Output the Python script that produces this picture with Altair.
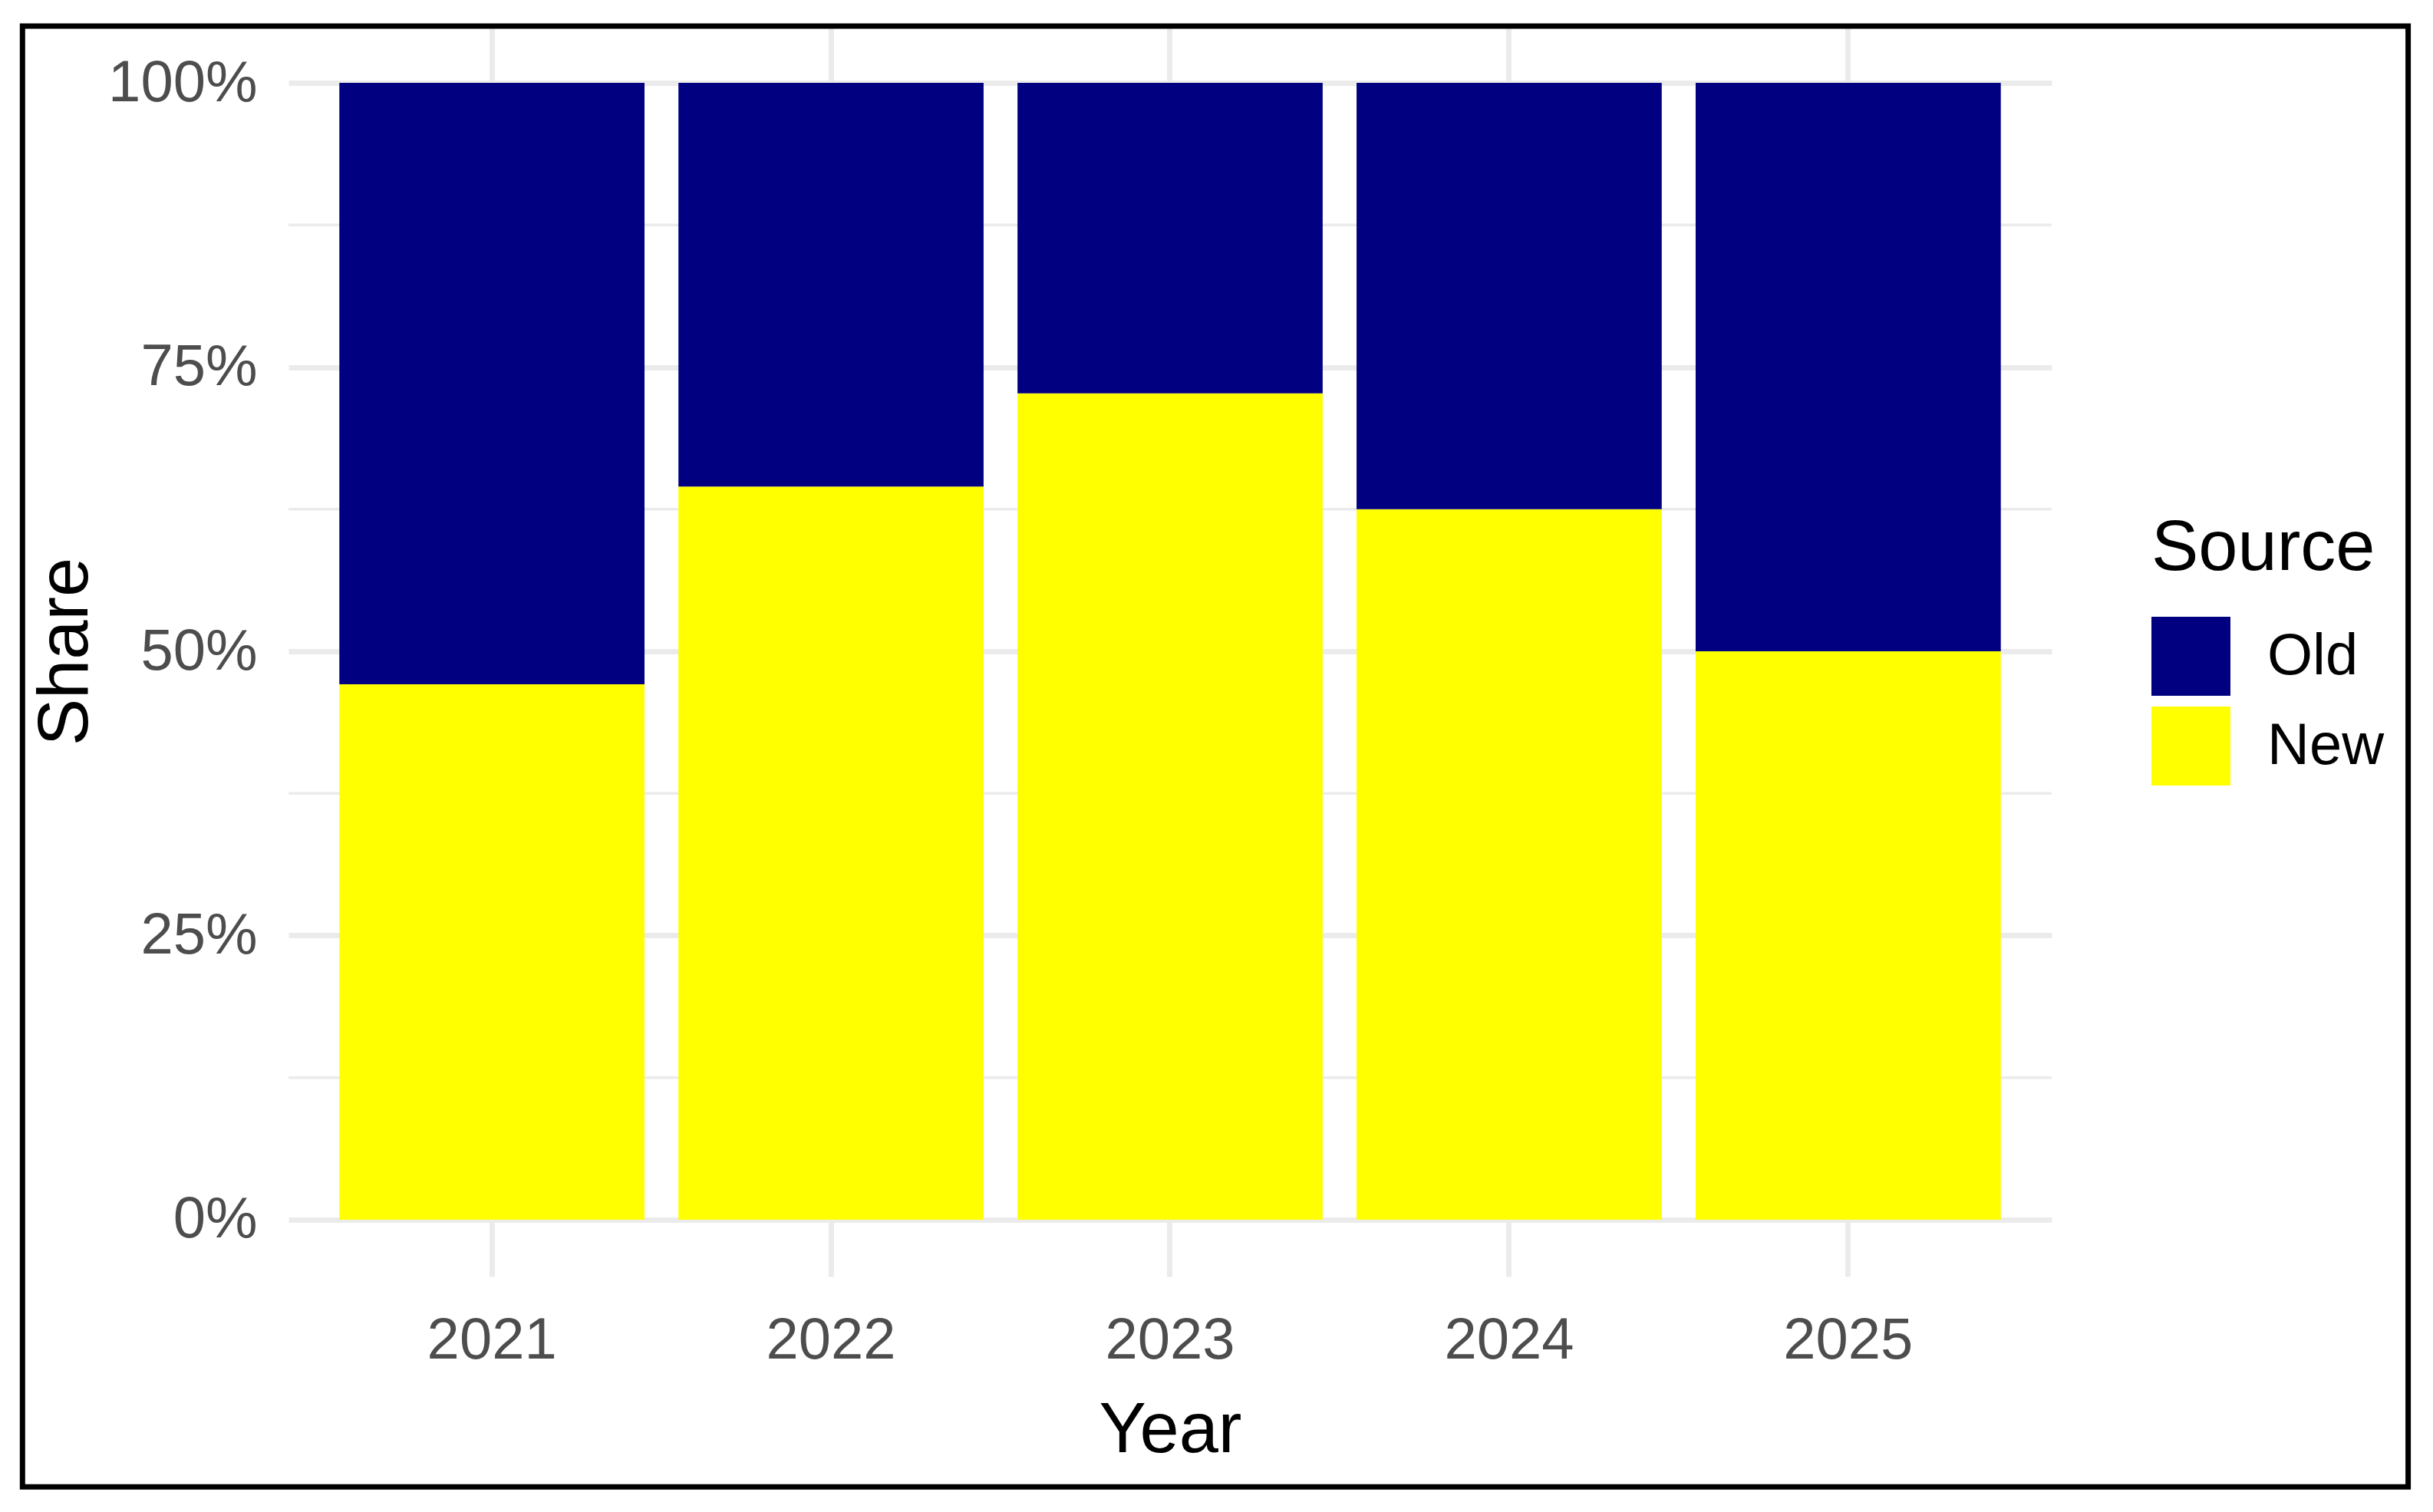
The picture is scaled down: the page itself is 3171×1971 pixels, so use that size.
import altair as alt
import pandas as pd

years = ["2021", "2022", "2023", "2024", "2025"]
new_share = [0.471, 0.645, 0.727, 0.625, 0.500]
old_share = [0.529, 0.355, 0.273, 0.375, 0.500]
sources = ["Old", "New"]
colors = ["#000080", "#FFFF00"]
major_ticks = [0, 0.25, 0.5, 0.75, 1.0]
minor_ticks = [0.125, 0.375, 0.625, 0.875]

rows = []
for y, n, o in zip(years, new_share, old_share):
    rows.append({"Year": y, "Source": "New", "Share": n, "ord": 0})
    rows.append({"Year": y, "Source": "Old", "Share": o, "ord": 1})
df = pd.DataFrame(rows)
minor_df = pd.DataFrame({"v": minor_ticks})
border_df = pd.DataFrame({"k": [0]})

FONT = "Liberation Sans"
GRID = "#EBEBEB"

minor = alt.Chart(minor_df).mark_rule(color=GRID, strokeWidth=3.5).encode(
    y=alt.Y("v:Q", scale=alt.Scale(domain=[-0.05, 1.05], nice=False))
)

bars = alt.Chart(df).mark_bar(strokeWidth=0).encode(
    x=alt.X(
        "Year:N",
        sort=years,
        scale=alt.Scale(paddingInner=0.1, paddingOuter=0.15),
        axis=alt.Axis(
            title="Year",
            labelAngle=0,
            labelFontSize=76,
            labelColor="#4D4D4D",
            labelPadding=46,
            labelLimit=1000,
            ticks=False,
            tickSize=0,
            domain=False,
            grid=True,
            gridColor=GRID,
            gridWidth=7,
            titleFontSize=92,
            titleFontWeight="normal",
            titleColor="black",
            titleBaseline="alphabetic",
            titleY=228,
            titleLimit=2000,
        ),
    ),
    y=alt.Y(
        "Share:Q",
        stack="zero",
        scale=alt.Scale(domain=[-0.05, 1.05], nice=False),
        axis=alt.Axis(
            title="Share",
            values=major_ticks,
            format=".0%",
            labelFontSize=76,
            labelColor="#4D4D4D",
            labelPadding=41,
            labelLimit=1000,
            ticks=False,
            tickSize=0,
            domain=False,
            grid=True,
            gridColor=GRID,
            gridWidth=7,
            titleFontSize=92,
            titleFontWeight="normal",
            titleColor="black",
            titleAngle=270,
            titleBaseline="alphabetic",
            titleAlign="center",
            titleX=-263,
            titleY=815,
            titleLimit=2000,
        ),
    ),
    color=alt.Color(
        "Source:N",
        scale=alt.Scale(domain=sources, range=colors),
        legend=alt.Legend(
            orient="none",
            legendX=2428,
            legendY=636,
            title="Source",
            titleFontSize=92,
            titleFontWeight="normal",
            titleColor="black",
            titlePadding=42,
            titleLimit=2000,
            labelFontSize=76,
            labelColor="black",
            labelOffset=48,
            labelLimit=1000,
            symbolType="square",
            symbolSize=10600,
            symbolStrokeWidth=0,
            symbolOpacity=1,
            rowPadding=14,
            padding=0,
        ),
    ),
    order=alt.Order("ord:Q", sort="ascending"),
)

border = alt.Chart(border_df).mark_rect(
    fillOpacity=0, stroke="black", strokeWidth=7
).encode(
    x=alt.value(-346.7),
    x2=alt.value(2762.6),
    y=alt.value(0),
    y2=alt.value(1904.3),
)

chart = alt.layer(minor, bars, border).properties(
    width=2298,
    height=1630,
    padding={"left": 368, "top": 26, "right": 489, "bottom": 299},
    autosize=alt.AutoSizeParams(type="none"),
    background="white",
).configure(
    font=FONT,
).configure_view(stroke=None)

chart.save("out.html", embed_options={"renderer": "svg", "actions": False})
